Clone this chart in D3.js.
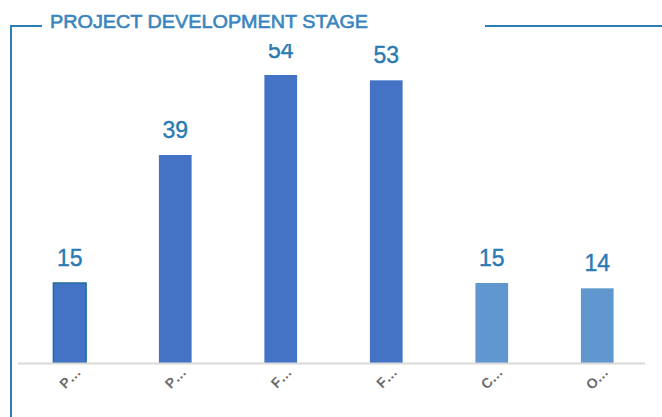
<!DOCTYPE html>
<html><head><meta charset="utf-8">
<script src="https://cdn.jsdelivr.net/npm/d3@7"></script>
<style>html,body{margin:0;padding:0;background:#fff;}svg{display:block;}</style>
</head><body>
<svg id="c" width="662" height="417"></svg>
<script>
const categories = ["P\u2026", "P\u2026", "F\u2026", "F\u2026", "C\u2026", "O\u2026"];
const values = [15, 39, 54, 53, 15, 14];
const barColors = ["#4472C4", "#4472C4", "#4472C4", "#4472C4", "#5F97CE", "#5F97CE"];
const title = "PROJECT DEVELOPMENT STAGE";

const svg = d3.select("#c");
const W = 662, H = 417;
const frameColor = "#2E7DB5";

const x = d3.scaleBand().domain(d3.range(categories.length)).range([17, 650]).padding(0);
const y = d3.scaleLinear().domain([0, 60]).range([363, 43]);
const bw = x.bandwidth() * 0.31;

// frame
svg.append("line").attr("x1", 11).attr("x2", 11).attr("y1", 25).attr("y2", H)
  .attr("stroke", frameColor).attr("stroke-width", 2);
svg.append("line").attr("x1", 10).attr("x2", 42).attr("y1", 26).attr("y2", 26)
  .attr("stroke", frameColor).attr("stroke-width", 2);
svg.append("line").attr("x1", 485).attr("x2", W).attr("y1", 26).attr("y2", 26)
  .attr("stroke", frameColor).attr("stroke-width", 2);
svg.append("text").attr("x", 50).attr("y", 28).text(title)
  .attr("font-family", "Liberation Sans Narrow, Arial Narrow, sans-serif")
  .attr("font-size", 19).attr("fill", "#3A85BE")
  .style("paint-order", "stroke").attr("stroke", "#3A85BE").attr("stroke-width", 0.6)
  .attr("textLength", 318).attr("lengthAdjust", "spacingAndGlyphs");

// clip
svg.append("defs").append("clipPath").attr("id", "pc")
  .append("rect").attr("x", 12).attr("y", 44).attr("width", 650).attr("height", 373);
const g = svg.append("g").attr("clip-path", "url(#pc)");

// axis baseline
const xAxis = d3.axisBottom(x).tickSize(0).tickFormat(i => categories[i]);
const ax = svg.append("g").attr("transform", `translate(0,${y(0)})`).call(xAxis);
ax.select(".domain").attr("stroke", "#D9D9D9").attr("stroke-width", 2)
  .attr("d", `M${18},0.5H${645}`);
ax.selectAll("text")
  .attr("font-family", "Arial, Liberation Sans, sans-serif").attr("font-size", 14)
  .attr("font-weight", "bold")
  .attr("fill", "#6b6b6b")
  .attr("text-anchor", "end").attr("dy", 0).attr("y", 0)
  .attr("transform", d => `translate(${12},${10}) rotate(-45)`);

// bars
g.selectAll("rect.bar").data(values).join("rect").attr("class", "bar")
  .attr("x", (d, i) => x(i) + x.bandwidth() / 2 - bw / 2)
  .attr("width", bw)
  .attr("y", d => y(d))
  .attr("height", d => y(0) - y(d))
  .attr("fill", (d, i) => barColors[i])
  .attr("stroke", (d, i) => i === 0 ? "#1F6E9E" : "none")
  .attr("stroke-width", 1.5);

// value labels
g.selectAll("text.val").data(values).join("text").attr("class", "val")
  .attr("x", (d, i) => x(i) + x.bandwidth() / 2)
  .attr("y", d => y(d) - 17)
  .attr("text-anchor", "middle")
  .attr("font-family", "Arial, Liberation Sans, sans-serif")
  .attr("font-size", 23)
  .attr("fill", "#2A7AB4")
  .style("paint-order", "stroke").attr("stroke", "#2A7AB4").attr("stroke-width", 0.4)
  .text(d => d);
</script>
</body></html>
